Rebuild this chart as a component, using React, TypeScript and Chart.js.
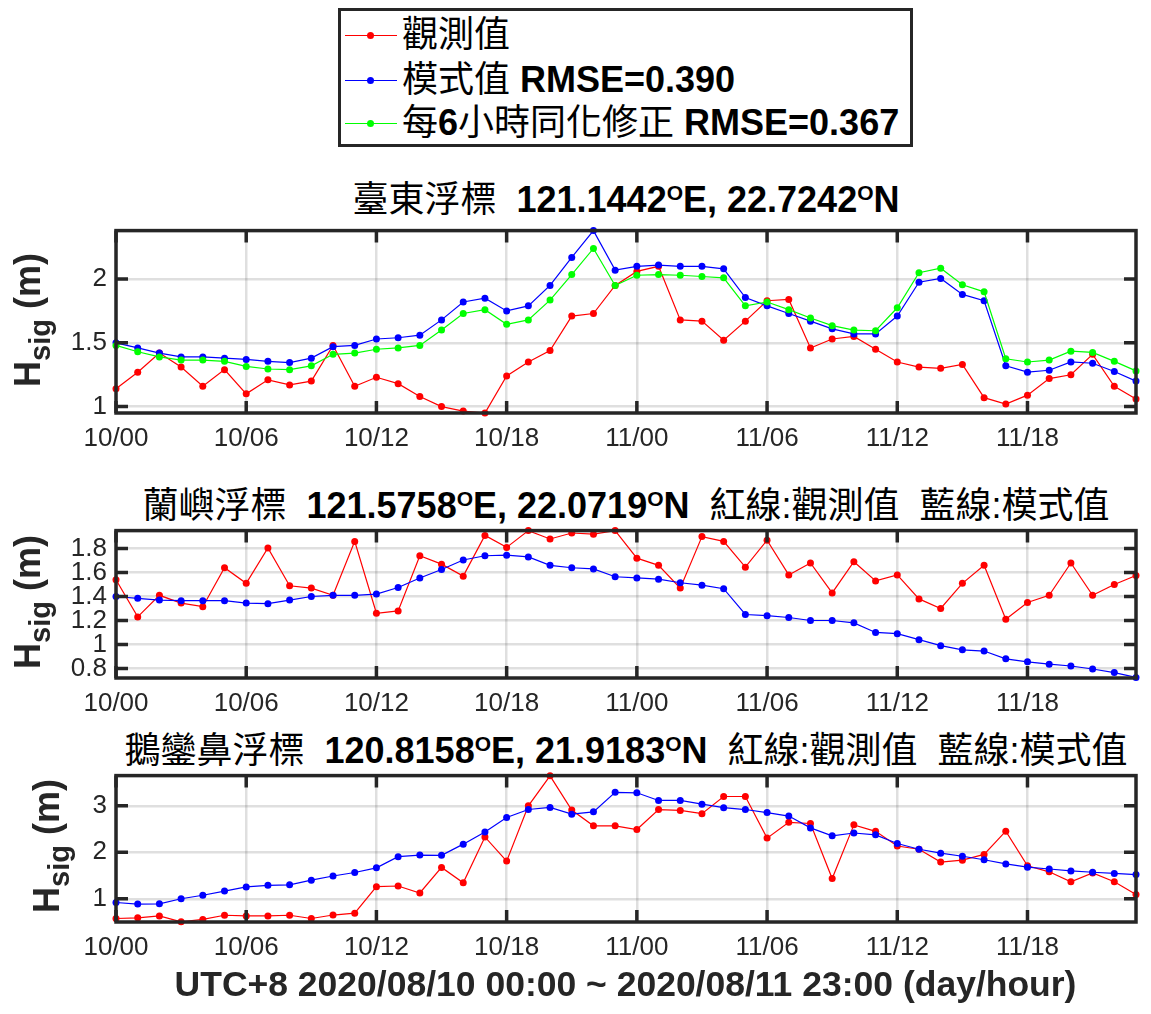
import React, { useEffect, useRef } from 'react';
import { Chart, registerables } from 'chart.js';

Chart.register(...registerables);

// ---------- data ----------
const hours = [
  '10/00', '10/01', '10/02', '10/03', '10/04', '10/05', '10/06', '10/07', '10/08', '10/09', '10/10', '10/11',
  '10/12', '10/13', '10/14', '10/15', '10/16', '10/17', '10/18', '10/19', '10/20', '10/21', '10/22', '10/23',
  '11/00', '11/01', '11/02', '11/03', '11/04', '11/05', '11/06', '11/07', '11/08', '11/09', '11/10', '11/11',
  '11/12', '11/13', '11/14', '11/15', '11/16', '11/17', '11/18', '11/19', '11/20', '11/21', '11/22', '11/23',
];
const xTickLabels = ['10/00', '10/06', '10/12', '10/18', '11/00', '11/06', '11/12', '11/18'];

// 臺東浮標
const taitungObs = [
  1.14, 1.27, 1.42, 1.31, 1.16, 1.29, 1.10, 1.21, 1.17, 1.20, 1.48, 1.16,
  1.23, 1.18, 1.08, 1.00, 0.965, 0.95, 1.24, 1.35, 1.44, 1.71, 1.73, 1.95,
  2.06, 2.10, 1.68, 1.67, 1.52, 1.67, 1.83, 1.84, 1.46, 1.53, 1.55, 1.45,
  1.35, 1.31, 1.30, 1.33, 1.07, 1.02, 1.09, 1.22, 1.25, 1.41, 1.16, 1.06,
];
const taitungModel = [
  1.50, 1.46, 1.42, 1.39, 1.39, 1.38, 1.37, 1.355, 1.345, 1.38, 1.47, 1.48,
  1.53, 1.54, 1.56, 1.68, 1.82, 1.85, 1.75, 1.79, 1.95, 2.17, 2.38, 2.07,
  2.10, 2.11, 2.10, 2.10, 2.08, 1.855, 1.79, 1.73, 1.67, 1.61, 1.57, 1.57,
  1.71, 1.975, 2.005, 1.88, 1.83, 1.32, 1.27, 1.285, 1.35, 1.34, 1.275, 1.20,
];
const taitungDA = [
  1.48, 1.43, 1.39, 1.365, 1.365, 1.355, 1.315, 1.295, 1.29, 1.32, 1.41, 1.42,
  1.45, 1.46, 1.48, 1.60, 1.73, 1.76, 1.645, 1.68, 1.835, 2.035, 2.24, 1.95,
  2.03, 2.035, 2.03, 2.02, 2.01, 1.79, 1.82, 1.76, 1.695, 1.635, 1.60, 1.595,
  1.775, 2.05, 2.085, 1.955, 1.90, 1.375, 1.35, 1.365, 1.435, 1.425, 1.355, 1.28,
];
const taitungYTicks = [1, 1.5, 2];

// 蘭嶼浮標
const lanyuObs = [
  1.54, 1.23, 1.41, 1.345, 1.315, 1.64, 1.51, 1.805, 1.49, 1.47, 1.41, 1.86,
  1.26, 1.28, 1.74, 1.67, 1.57, 1.91, 1.81, 1.95, 1.88, 1.93, 1.92, 1.95,
  1.72, 1.66, 1.47, 1.90, 1.86, 1.645, 1.87, 1.58, 1.68, 1.43, 1.69, 1.53,
  1.58, 1.38, 1.30, 1.51, 1.66, 1.21, 1.35, 1.41, 1.68, 1.41, 1.50, 1.575,
];
const lanyuModel = [
  1.40, 1.385, 1.37, 1.365, 1.365, 1.365, 1.345, 1.34, 1.37, 1.40, 1.41, 1.41,
  1.42, 1.475, 1.555, 1.625, 1.705, 1.74, 1.745, 1.73, 1.66, 1.64, 1.63, 1.565,
  1.555, 1.545, 1.515, 1.495, 1.465, 1.25, 1.24, 1.225, 1.20, 1.20, 1.18, 1.10,
  1.09, 1.04, 0.99, 0.955, 0.945, 0.88, 0.855, 0.835, 0.82, 0.795, 0.765, 0.725,
];
const lanyuYTicks = [0.8, 1, 1.2, 1.4, 1.6, 1.8];

// 鵝鑾鼻浮標
const eluanbiObs = [
  0.575, 0.59, 0.63, 0.505, 0.555, 0.645, 0.63, 0.63, 0.645, 0.575, 0.65, 0.69,
  1.26, 1.275, 1.125, 1.675, 1.345, 2.33, 1.81, 3.0, 3.645, 2.91, 2.57, 2.57,
  2.49, 2.92, 2.90, 2.83, 3.20, 3.20, 2.305, 2.645, 2.62, 1.435, 2.59, 2.45,
  2.135, 2.065, 1.79, 1.83, 1.955, 2.455, 1.71, 1.58, 1.365, 1.555, 1.365, 1.09,
];
const eluanbiModel = [
  0.92, 0.885, 0.89, 1.0, 1.075, 1.165, 1.255, 1.29, 1.30, 1.40, 1.49, 1.565,
  1.665, 1.905, 1.94, 1.935, 2.175, 2.435, 2.75, 2.92, 2.965, 2.82, 2.87, 3.29,
  3.28, 3.115, 3.115, 3.035, 2.96, 2.92, 2.855, 2.78, 2.525, 2.355, 2.415, 2.375,
  2.19, 2.065, 1.98, 1.915, 1.84, 1.75, 1.68, 1.64, 1.60, 1.57, 1.545, 1.52,
];
const eluanbiYTicks = [1, 2, 3];

// ---------- style ----------
const FONT = '"Liberation Sans", "Noto Sans CJK TC", Arial, sans-serif';
const AXIS_COLOR = '#262626';
const GRID_COLOR = 'rgba(38,38,38,0.15)';
const RED = '#ff0000';
const BLUE = '#0000ff';
const GREEN = '#00ff00';

const PLOT_LEFT = 116;
const PLOT_RIGHT = 1136;
const W = 1151;

const boxPlugin = {
  id: 'matlabBox',
  afterDraw(chart: any) {
    const { ctx, chartArea: a, scales } = chart;
    const tl = 12;
    ctx.save();
    ctx.strokeStyle = AXIS_COLOR;
    ctx.lineWidth = 3.5;
    ctx.lineCap = 'butt';
    ctx.beginPath();
    scales.x.ticks.forEach((t: any) => {
      const px = scales.x.getPixelForValue(t.value);
      ctx.moveTo(px, a.bottom);
      ctx.lineTo(px, a.bottom - tl);
      ctx.moveTo(px, a.top);
      ctx.lineTo(px, a.top + tl);
    });
    scales.y.ticks.forEach((t: any) => {
      const py = scales.y.getPixelForValue(t.value);
      ctx.moveTo(a.left, py);
      ctx.lineTo(a.left + tl, py);
      ctx.moveTo(a.right, py);
      ctx.lineTo(a.right - tl, py);
    });
    ctx.stroke();
    ctx.strokeRect(a.left, a.top, a.right - a.left, a.bottom - a.top);
    ctx.restore();
  },
};

type Series = { data: number[]; color: string };

function Panel(props: {
  boxTop: number;
  boxBottom: number;
  yMin: number;
  yMax: number;
  yTicks: number[];
  series: Series[];
}) {
  const { boxTop, boxBottom, yMin, yMax, yTicks, series } = props;
  const ref = useRef<HTMLCanvasElement>(null);
  const padTop = 20;
  const xAxisH = 50;
  const top = boxTop - padTop;
  const height = boxBottom - top + xAxisH;

  useEffect(() => {
    if (!ref.current) return;
    const chart = new Chart(ref.current, {
      type: 'line',
      data: {
        labels: hours,
        datasets: series.map((s, i) => ({
          data: s.data,
          borderColor: s.color,
          backgroundColor: s.color,
          pointBackgroundColor: s.color,
          pointBorderColor: s.color,
          borderWidth: 1.2,
          pointRadius: 3.5,
          pointBorderWidth: 0,
          tension: 0,
          clip: 6,
          order: series.length - 1 - i,
        })),
      },
      options: {
        animation: false,
        responsive: false,
        maintainAspectRatio: false,
        events: [],
        layout: { padding: { top: padTop, right: W - PLOT_RIGHT, left: 0, bottom: 0 } },
        plugins: {
          legend: { display: false },
          tooltip: { enabled: false },
          title: { display: false },
        },
        scales: {
          x: {
            type: 'category',
            offset: false,
            grid: { color: GRID_COLOR, lineWidth: 2.5, drawTicks: false },
            border: { display: false },
            ticks: {
              autoSkip: false,
              maxRotation: 0,
              minRotation: 0,
              padding: 10,
              color: AXIS_COLOR,
              font: { family: FONT, size: 26 },
              callback: (v: any) => hours[v as number],
            },
            afterBuildTicks: (s: any) => {
              s.ticks = s.ticks.filter((t: any) => xTickLabels.includes(hours[t.value]));
            },
            afterFit: (s: any) => {
              s.height = xAxisH;
            },
          },
          y: {
            type: 'linear',
            min: yMin,
            max: yMax,
            grid: { color: GRID_COLOR, lineWidth: 2.5, drawTicks: false },
            border: { display: false },
            ticks: {
              autoSkip: false,
              padding: 9,
              color: AXIS_COLOR,
              font: { family: FONT, size: 26 },
              callback: (v: any) => String(v),
            },
            afterBuildTicks: (s: any) => {
              s.ticks = yTicks.map((v) => ({ value: v }));
            },
            afterFit: (s: any) => {
              s.width = PLOT_LEFT;
            },
          },
        },
      } as any,
      plugins: [boxPlugin],
    });
    return () => chart.destroy();
  }, []);

  return (
    <canvas
      ref={ref}
      width={W}
      height={height}
      style={{ position: 'absolute', left: 0, top, width: W, height }}
    />
  );
}

const Sup = () => (
  <span style={{ fontSize: 21, position: 'relative', top: -12 }}>O</span>
);

function Title({ cy, children }: { cy: number; children: any }) {
  return (
    <div
      style={{
        position: 'absolute',
        left: PLOT_LEFT - 20,
        width: PLOT_RIGHT - PLOT_LEFT + 40,
        top: cy - 22,
        height: 44,
        lineHeight: '44px',
        textAlign: 'center',
        fontSize: 36,
        whiteSpace: 'pre',
        color: '#000',
      }}
    >
      {children}
    </div>
  );
}

function YLabel({ cx, cy }: { cx: number; cy: number }) {
  const w = 220;
  const h = 44;
  return (
    <div
      style={{
        position: 'absolute',
        left: cx - w / 2,
        top: cy - h / 2,
        width: w,
        height: h,
        lineHeight: `${h}px`,
        textAlign: 'center',
        transform: 'rotate(-90deg)',
        fontWeight: 'bold',
        fontSize: 36,
        whiteSpace: 'pre',
        color: '#262626',
      }}
    >
      H<span style={{ fontSize: 29, position: 'relative', top: 10 }}>sig</span> (m)
    </div>
  );
}

function LegendRow({ cy, color, children }: { cy: number; color: string; children: any }) {
  return (
    <div style={{ position: 'absolute', left: 338, top: cy - 22, width: 575, height: 44 }}>
      <div style={{ position: 'absolute', left: 7, top: 21.5, width: 52, height: 1, background: color }} />
      <div
        style={{
          position: 'absolute',
          left: 32 - 3.5,
          top: 22 - 3.5,
          width: 7,
          height: 7,
          borderRadius: '50%',
          background: color,
        }}
      />
      <div
        style={{
          position: 'absolute',
          left: 64,
          top: 0,
          height: 44,
          lineHeight: '44px',
          whiteSpace: 'pre',
          fontSize: 36,
          color: '#000',
        }}
      >
        {children}
      </div>
    </div>
  );
}

export default function App() {
  return (
    <div
      style={{
        position: 'absolute',
        left: 0,
        top: 0,
        width: W,
        height: 1014,
        background: '#fff',
        overflow: 'hidden',
        fontFamily: FONT,
      }}
    >
      {/* legend */}
      <div
        style={{
          position: 'absolute',
          left: 338,
          top: 8,
          width: 575,
          height: 139,
          border: '3px solid #262626',
          boxSizing: 'border-box',
        }}
      />
      <LegendRow cy={35} color={RED}>觀測值</LegendRow>
      <LegendRow cy={80} color={BLUE}>
        模式值 <b>RMSE=0.390</b>
      </LegendRow>
      <LegendRow cy={123} color={GREEN}>
        每<b>6</b>小時同化修正 <b>RMSE=0.367</b>
      </LegendRow>

      {/* panel 1 */}
      <Title cy={200}>
        {'臺東浮標  '}
        <b>
          121.1442<Sup />E, 22.7242<Sup />N
        </b>
      </Title>
      <Panel
        boxTop={226}
        boxBottom={413}
        yMin={0.95}
        yMax={2.38}
        yTicks={taitungYTicks}
        series={[
          { data: taitungObs, color: RED },
          { data: taitungModel, color: BLUE },
          { data: taitungDA, color: GREEN },
        ]}
      />
      <YLabel cx={28} cy={320} />

      {/* panel 2 */}
      <Title cy={506}>
        {'蘭嶼浮標  '}
        <b>
          121.5758<Sup />E, 22.0719<Sup />N
        </b>
        {'  紅線:觀測值  藍線:模式值'}
      </Title>
      <Panel
        boxTop={526}
        boxBottom={678}
        yMin={0.72}
        yMax={1.95}
        yTicks={lanyuYTicks}
        series={[
          { data: lanyuObs, color: RED },
          { data: lanyuModel, color: BLUE },
        ]}
      />
      <YLabel cx={28} cy={602} />

      {/* panel 3 */}
      <Title cy={751}>
        {'鵝鑾鼻浮標  '}
        <b>
          120.8158<Sup />E, 21.9183<Sup />N
        </b>
        {'  紅線:觀測值  藍線:模式值'}
      </Title>
      <Panel
        boxTop={771}
        boxBottom={922}
        yMin={0.5}
        yMax={3.65}
        yTicks={eluanbiYTicks}
        series={[
          { data: eluanbiObs, color: RED },
          { data: eluanbiModel, color: BLUE },
        ]}
      />
      <YLabel cx={47} cy={846} />

      {/* x-axis title */}
      <div
        style={{
          position: 'absolute',
          left: 0,
          width: W,
          top: 984 - 22,
          height: 44,
          lineHeight: '44px',
          textAlign: 'center',
          paddingLeft: 100,
          boxSizing: 'border-box',
          fontSize: 35.5,
          fontWeight: 'bold',
          whiteSpace: 'pre',
          color: '#262626',
        }}
      >
        UTC+8 2020/08/10 00:00 ~ 2020/08/11 23:00 (day/hour)
      </div>
    </div>
  );
}
